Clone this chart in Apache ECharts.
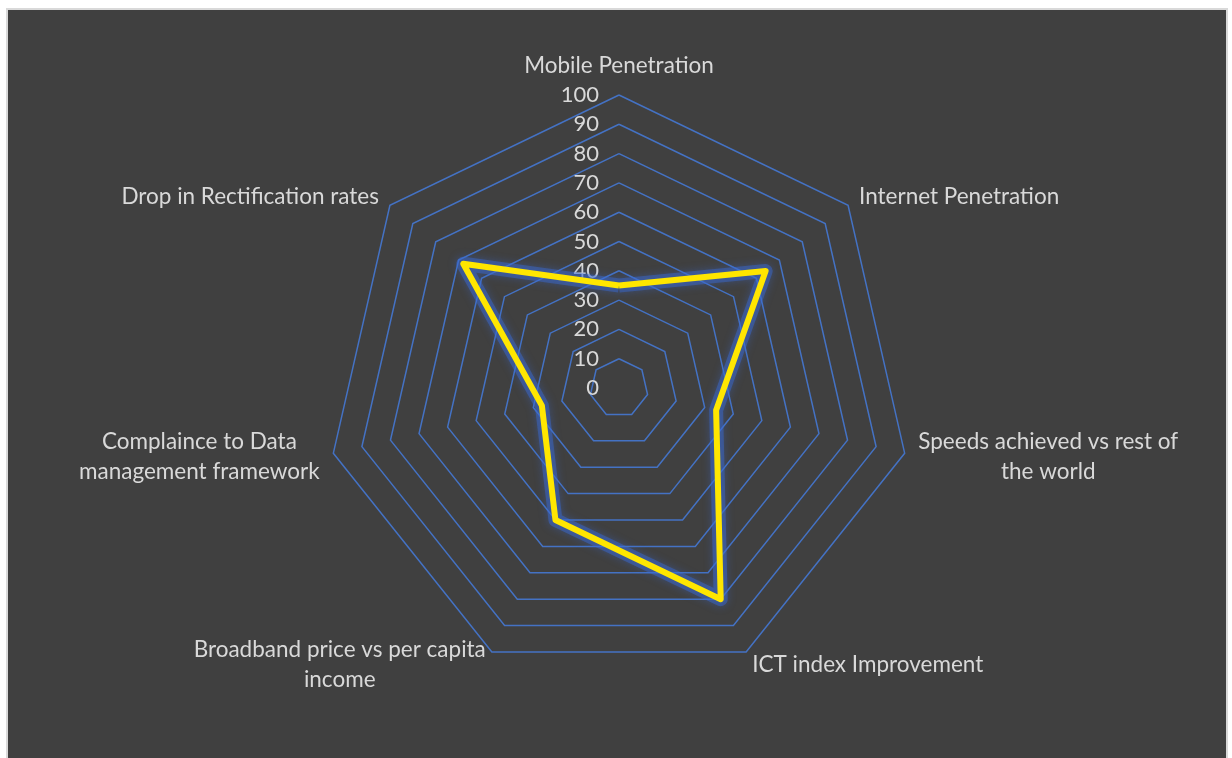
<!DOCTYPE html>
<html>
<head>
<meta charset="utf-8">
<script src="https://cdn.jsdelivr.net/npm/echarts@6/dist/echarts.min.js"></script>
<style>
  html, body { margin: 0; padding: 0; background: #ffffff; width: 1232px; height: 758px; overflow: hidden; }
  #frame { position: absolute; left: 6px; top: 8px; width: 1222px; height: 760px; background: #404040; border-left: 2px solid #d9d9d9; border-top: 2px solid #d9d9d9; border-right: 2px solid #d9d9d9; box-sizing: border-box; }
  #chart { position: absolute; left: 0; top: 0; width: 1232px; height: 758px; }
</style>
</head>
<body>
<div id="frame"></div>
<div id="chart"></div>
<script>
// Axis categories, clockwise from the top ("\n" marks line breaks as in the reference)
const categories = [
  'Mobile Penetration',
  'Internet Penetration',
  'Speeds achieved vs rest of\nthe world',
  'ICT index Improvement',
  'Broadband price vs per capita\nincome',
  'Complaince to Data\nmanagement framework',
  'Drop in Rectification rates'
];
// Series values (scale 0-100), same order as categories
const scores = [35, 64, 34, 80, 50, 27, 68];
// Radial scale
const axisMin = 0;
const axisMax = 100;
const tickStep = 10;

const textColor = '#D9D9D9';
const fontFamily = 'Lato, "Open Sans", sans-serif';

// ECharts radar runs counter-clockwise: keep the first axis on top, reverse the rest
const order = [0].concat(categories.map((_, i) => i).slice(1).reverse());

const indicator = order.map((idx, i) => {
  const ind = { name: categories[idx], min: axisMin, max: axisMax };
  if (i === 0) {
    ind.axisLabel = { show: true, color: textColor, fontSize: 22, fontFamily: fontFamily, margin: 20 };
  }
  return ind;
});
const orderedScores = order.map(idx => scores[idx]);

const chart = echarts.init(document.getElementById('chart'), null, { renderer: 'canvas' });
chart.setOption({
  backgroundColor: 'transparent',
  animation: false,
  radar: {
    center: [619, 388],
    radius: 293,
    startAngle: 90,
    shape: 'polygon',
    splitNumber: (axisMax - axisMin) / tickStep,
    nameGap: 14,
    axisName: {
      color: textColor,
      fontSize: 22.5,
      fontFamily: fontFamily,
      formatter: function (name) {
        return name.split('\n').map(s => '{c|' + s + '}').join('\n');
      },
      rich: {
        c: { align: 'center', color: textColor, fontSize: 22.5, fontFamily: fontFamily, lineHeight: 30 }
      }
    },
    splitLine: { lineStyle: { color: '#4472C4', width: 1.5 } },
    splitArea: { show: false },
    axisLine: { show: false },
    axisTick: { show: false },
    axisLabel: { show: false },
    indicator: indicator
  },
  series: [{
    // soft blue glow under the line
    type: 'radar',
    symbol: 'none',
    silent: true,
    z: 1,
    lineStyle: {
      color: 'rgba(58,106,212,0.45)',
      width: 14,
      shadowColor: 'rgba(58,106,212,0.8)',
      shadowBlur: 8
    },
    data: [{ value: orderedScores }]
  }, {
    type: 'radar',
    symbol: 'none',
    z: 2,
    lineStyle: {
      color: '#FFE600',
      width: 6
    },
    data: [{ value: orderedScores }]
  }]
});
</script>
</body>
</html>
